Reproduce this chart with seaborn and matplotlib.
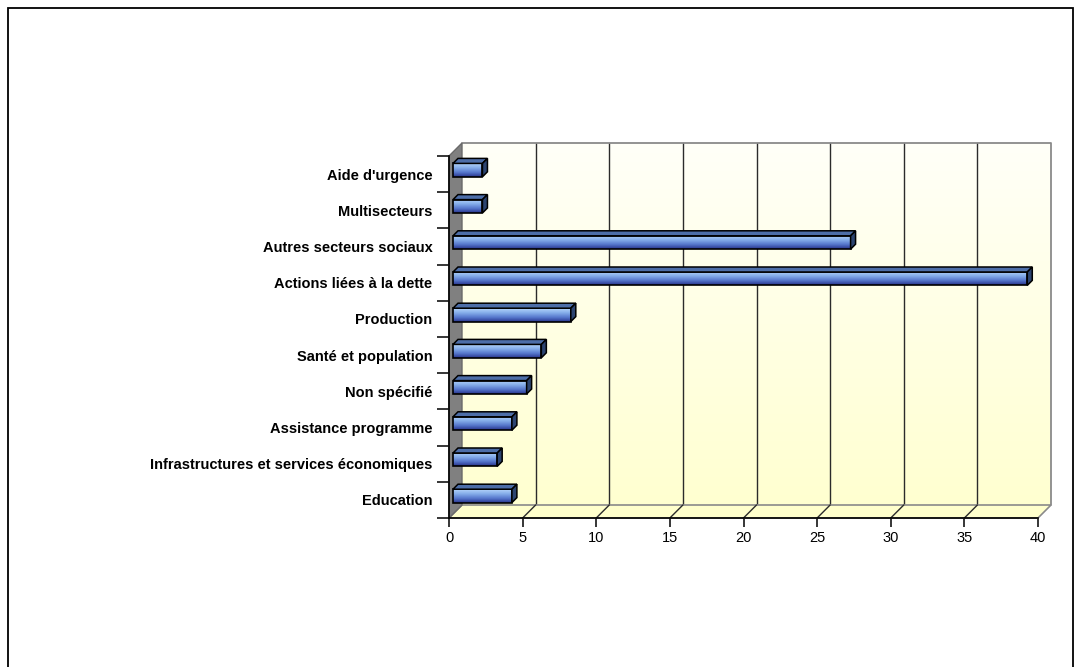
import numpy as np
import pandas as pd
import matplotlib
matplotlib.use("Agg")
import matplotlib.pyplot as plt
import seaborn as sns
from matplotlib.transforms import ScaledTranslation
from matplotlib.patches import Polygon, Rectangle
from matplotlib.colors import LinearSegmentedColormap

# ---- data -------------------------------------------------------------
categories = [
    "Aide d'urgence",
    "Multisecteurs",
    "Autres secteurs sociaux",
    "Actions liées à la dette",
    "Production",
    "Santé et population",
    "Non spécifié",
    "Assistance programme",
    "Infrastructures et services économiques",
    "Education",
]
values = [2, 2, 27, 39, 8, 6, 5, 4, 3, 4]
x_ticks = [0, 5, 10, 15, 20, 25, 30, 35, 40]

# ---- figure ----------------------------------------------------------
W, H, DPI = 1075, 667, 100
sns.set_theme(style="white")
plt.rcParams["font.family"] = ["Liberation Sans", "DejaVu Sans"]

fig = plt.figure(figsize=(W / DPI, H / DPI), dpi=DPI)
fig.patch.set_facecolor("white")

# front plane of the 3-D box, in pixels (top-left origin)
L, R, T, B = 449, 1038, 156, 518
ax = fig.add_axes([L / W, (H - B) / H, (R - L) / W, (B - T) / H])
ax.set_facecolor("none")

df = pd.DataFrame({"secteur": categories, "valeur": values})
sns.barplot(data=df, x="valeur", y="secteur", order=categories, orient="h",
            width=0.37, color="#5b7fc8", edgecolor="black", linewidth=1.2,
            ax=ax, zorder=5)

n = len(categories)
ax.set_xlim(x_ticks[0], x_ticks[-1])
ax.set_ylim(n - 0.5, -0.5)


def shifted(dx, dy):
    """Data transform shifted by dx px right and dy px up."""
    return ax.transData + ScaledTranslation(dx / DPI, dy / DPI, fig.dpi_scale_trans)


def to_data(points_px):
    return ax.transData.inverted().transform(points_px)


WALL = 13      # depth of the box
BAR_OFF = 4    # depth position of the bar front faces
BAR_D = 5      # bar depth

wall_tr = shifted(WALL, WALL)
bar_tr = shifted(BAR_OFF, BAR_OFF)

# ---- back wall with soft yellow gradient ----------------------------
wall_cmap = LinearSegmentedColormap.from_list("wall", ["#fffff8", "#ffffd0"])
grad = np.linspace(0, 1, 256).reshape(-1, 1)
im = ax.imshow(grad, cmap=wall_cmap, aspect="auto", origin="upper",
               extent=(x_ticks[0], x_ticks[-1], n - 0.5, -0.5),
               transform=wall_tr, zorder=0.5, interpolation="bilinear")
im.set_clip_on(False)

for xv in x_ticks[1:-1]:
    ax.plot([xv, xv], [n - 0.5, -0.5], transform=wall_tr, color="#2b2b2b",
            lw=1.0, zorder=1, clip_on=False)
# top and right edge of the wall
ax.plot([x_ticks[0], x_ticks[-1], x_ticks[-1]], [-0.5, -0.5, n - 0.5],
        transform=wall_tr, color="#8a8a8a", lw=1.3, zorder=1.2, clip_on=False)

# ---- floor -----------------------------------------------------------
fl = ax.transData.transform([(x_ticks[0], n - 0.5), (x_ticks[-1], n - 0.5)])
floor_px = [fl[0], fl[1], fl[1] + WALL, fl[0] + WALL]
ax.add_patch(Polygon(to_data(floor_px), closed=True, facecolor="#ffffcc",
                     edgecolor="#8a8a8a", lw=1.2, zorder=1, clip_on=False))
for xv in x_ticks[1:-1]:
    p = ax.transData.transform((xv, n - 0.5))
    seg = to_data([p, p + WALL])
    ax.plot(seg[:, 0], seg[:, 1], color="#2b2b2b", lw=1.0, zorder=1.3,
            clip_on=False)

# ---- left side wall --------------------------------------------------
sw = ax.transData.transform([(x_ticks[0], n - 0.5), (x_ticks[0], -0.5)])
side_px = [sw[0], sw[1], sw[1] + WALL, sw[0] + WALL]
ax.add_patch(Polygon(to_data(side_px), closed=True, facecolor="#808080",
                     edgecolor="#6a6a6a", lw=1.0, zorder=2, clip_on=False))

# ---- 3-D bars --------------------------------------------------------
bar_cmap = LinearSegmentedColormap.from_list(
    "bar", ["#b7d6fb", "#86aeea", "#5677cc", "#26328a"])
for patch in list(ax.patches):
    if not hasattr(patch, "get_width") or patch.get_zorder() != 5:
        continue
    x0, y0 = patch.get_x(), patch.get_y()
    w, h = patch.get_width(), patch.get_height()
    patch.set_transform(bar_tr)
    patch.set_facecolor("none")
    patch.set_zorder(7)
    patch.set_clip_on(False)
    bim = ax.imshow(grad, cmap=bar_cmap, aspect="auto", origin="upper",
                    extent=(x0, x0 + w, y0 + h, y0), transform=bar_tr,
                    zorder=6, interpolation="bilinear")
    bim.set_clip_on(False)
    c = bar_tr.transform([(x0, y0), (x0 + w, y0), (x0 + w, y0 + h)])
    tl, tr_, br = c[0], c[1], c[2]
    d = np.array([BAR_D, BAR_D])
    top_px = [tl, tr_, tr_ + d, tl + d]
    side_px = [tr_, br, br + d, tr_ + d]
    ax.add_patch(Polygon(to_data(top_px), closed=True, facecolor="#4d6ea8",
                         edgecolor="black", lw=1.1, zorder=7, clip_on=False))
    ax.add_patch(Polygon(to_data(side_px), closed=True, facecolor="#2c4470",
                         edgecolor="black", lw=1.1, zorder=7, clip_on=False))

ax.set_xlim(x_ticks[0], x_ticks[-1])
ax.set_ylim(n - 0.5, -0.5)

# ---- axes, ticks, labels ----------------------------------------------
for s in ("top", "right"):
    ax.spines[s].set_visible(False)
for s in ("left", "bottom"):
    ax.spines[s].set_color("black")
    ax.spines[s].set_linewidth(1.2)
    ax.spines[s].set_zorder(3)

ax.set_xticks(x_ticks)
ax.set_xticklabels([str(t) for t in x_ticks], fontsize=10.5)
ax.set_yticks(range(n))
ax.set_yticklabels(categories, fontsize=10.5, fontweight="bold")
ax.set_yticks(np.arange(-0.5, n, 1), minor=True)
ax.tick_params(axis="x", which="major", bottom=True, length=6.5, width=1.1,
               color="black", pad=3, labelcolor="black")
ax.tick_params(axis="y", which="major", left=False, length=0, pad=12,
               labelcolor="black")
ax.tick_params(axis="y", which="minor", left=True, length=8.6, width=1.1,
               color="black")
ax.set_xlabel("")
ax.set_ylabel("")
ax.grid(False)

# chart frame
fig.add_artist(Rectangle((8 / W, -0.02), (1073 - 8) / W, (H - 8) / H + 0.02,
                         transform=fig.transFigure, fill=False,
                         edgecolor="black", lw=1.3))

fig.savefig("out.png", dpi=DPI, facecolor="white")
